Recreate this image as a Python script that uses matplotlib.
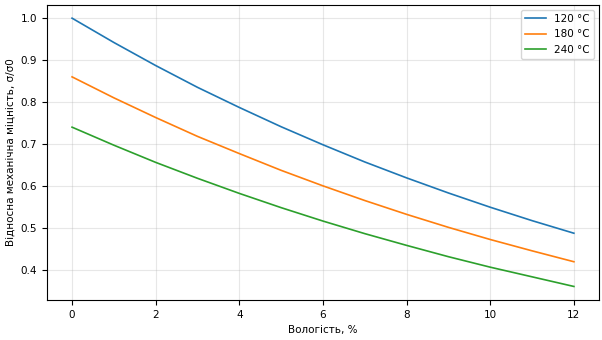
import matplotlib.pyplot as plt

# Moisture content, %
moisture = [0, 1, 2, 3, 4, 5, 6, 7, 8, 9, 10, 11, 12]

# Relative mechanical strength
s120 = [1.000, 0.942, 0.887, 0.835, 0.787, 0.741, 0.698, 0.657, 0.619, 0.583, 0.549, 0.517, 0.487]
s180 = [0.860, 0.810, 0.763, 0.718, 0.677, 0.637, 0.600, 0.565, 0.532, 0.501, 0.472, 0.445, 0.419]
s240 = [0.740, 0.697, 0.656, 0.618, 0.582, 0.548, 0.516, 0.486, 0.458, 0.431, 0.406, 0.383, 0.360]

labels = ["120 °C", "180 °C", "240 °C"]

plt.rcParams["font.size"] = 7.5
fig = plt.figure(figsize=(6.02, 3.4), dpi=100)
ax = fig.add_axes([0.078, 0.118, 0.917, 0.868])

for vals, lab in zip([s120, s180, s240], labels):
    ax.plot(moisture, vals, label=lab, linewidth=1.2)

ax.set_xlabel("Вологість, %")
ax.set_ylabel("Відносна механічна міцність, σ/σ0")
ax.grid(True, alpha=0.3)
ax.legend(loc="upper right")

fig.savefig("out.png", dpi=100)
